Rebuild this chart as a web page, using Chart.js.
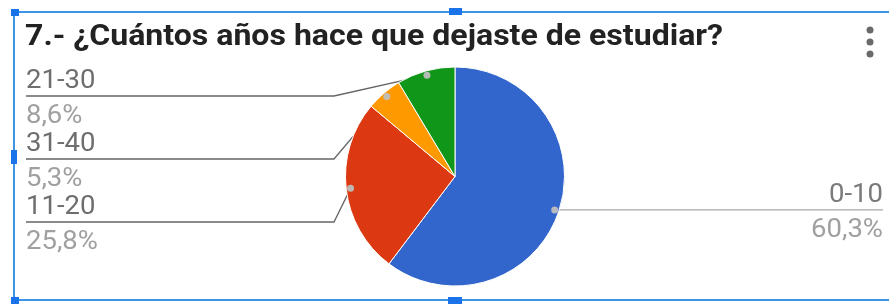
<!DOCTYPE html>
<html>
<head>
<meta charset="utf-8">
<script src="https://cdn.jsdelivr.net/npm/chart.js@4/dist/chart.umd.min.js"></script>
<style>
  html,body{margin:0;padding:0;background:#fff;width:889px;height:304px;overflow:hidden;}
  #wrap{position:relative;width:889px;height:304px;}
  canvas{position:absolute;left:0;top:0;}
  .bl{position:absolute;background:#3d95ea;}
  .hd{position:absolute;background:#1a73e8;}
</style>
</head>
<body>
<div id="wrap">
  <canvas id="c" width="889" height="304"></canvas>
  <div class="bl" style="left:13px;top:11px;width:876px;height:2px;"></div>
  <div class="bl" style="left:13px;top:11px;width:2px;height:290px;"></div>
  <div class="bl" style="left:13px;top:299px;width:876px;height:2px;"></div>
  <div class="hd" style="left:11px;top:9px;width:8px;height:7px;"></div>
  <div class="hd" style="left:449px;top:8px;width:13px;height:7px;"></div>
  <div class="hd" style="left:11px;top:150px;width:6px;height:14px;"></div>
  <div class="hd" style="left:448px;top:297px;width:14px;height:7px;"></div>
  <div class="hd" style="left:11px;top:297px;width:8px;height:7px;"></div>
</div>
<script>
const title = '7.- ¿Cuántos años hace que dejaste de estudiar?';
const categories = ['0-10', '11-20', '31-40', '21-30'];
const values = [60.3, 25.8, 5.3, 8.6];
const colors = ['#3366cc', '#dc3912', '#ff9900', '#109618'];

const pctText = v => v.toFixed(1).replace('.', ',') + '%';

// callout layout: side and y of the leader line (null => at the dot's y)
const callouts = [
  {side: 'right', lineY: null},
  {side: 'left', lineY: 222},
  {side: 'left', lineY: 159},
  {side: 'left', lineY: 96}
];

function dotPos(arc) {
  const mid = (arc.startAngle + arc.endAngle) / 2;
  const r = arc.outerRadius * 0.96;
  return {x: arc.x + Math.cos(mid) * r, y: arc.y + Math.sin(mid) * r};
}

function wideText(ctx, text, x, y, sx) {
  ctx.save();
  ctx.translate(x, y);
  ctx.scale(sx, 1);
  ctx.fillText(text, 0, 0);
  ctx.restore();
}

const calloutPlugin = {
  id: 'callouts',
  beforeDatasetsDraw(chart) {
    const ctx = chart.ctx;
    const meta = chart.getDatasetMeta(0);
    ctx.save();
    meta.data.forEach((arc, i) => {
      const p = dotPos(arc);
      const c = callouts[i];
      ctx.beginPath();
      ctx.lineWidth = 1.3;
      if (c.side === 'right') {
        ctx.strokeStyle = '#a8a8a8';
        ctx.moveTo(p.x, p.y);
        ctx.lineTo(883, p.y);
      } else {
        ctx.strokeStyle = '#666666';
        ctx.moveTo(26, c.lineY);
        ctx.lineTo(334, c.lineY);
        ctx.lineTo(p.x, p.y);
      }
      ctx.stroke();
    });
    ctx.restore();
  },
  afterDatasetsDraw(chart) {
    const ctx = chart.ctx;
    const meta = chart.getDatasetMeta(0);
    ctx.save();
    meta.data.forEach((arc, i) => {
      const p = dotPos(arc);
      const c = callouts[i];
      ctx.beginPath();
      ctx.fillStyle = 'rgba(190,190,190,0.95)';
      ctx.arc(p.x, p.y, 3.5, 0, Math.PI * 2);
      ctx.fill();
      const ly = c.side === 'right' ? p.y : c.lineY;
      ctx.font = '25px Roboto';
      ctx.textBaseline = 'alphabetic';
      if (c.side === 'right') {
        ctx.textAlign = 'right';
        ctx.fillStyle = '#7a7a7a';
        wideText(ctx, categories[i], 883, ly - 8, 1.1);
        ctx.fillStyle = '#a0a0a0';
        wideText(ctx, pctText(values[i]), 883, ly + 27, 1.1);
      } else {
        ctx.textAlign = 'left';
        ctx.fillStyle = '#6e6e6e';
        wideText(ctx, categories[i], 26, ly - 8, 1.1);
        ctx.fillStyle = '#a0a0a0';
        wideText(ctx, pctText(values[i]), 26, ly + 27, 1.1);
      }
    });
    // title
    ctx.textAlign = 'left';
    ctx.fillStyle = '#222222';
    ctx.font = 'bold 29px Roboto';
    const w = ctx.measureText(title).width;
    wideText(ctx, title, 25, 45, 698 / w);
    // menu dots
    ctx.fillStyle = '#6a6a6a';
    [30, 42, 54].forEach(y => {
      ctx.beginPath();
      ctx.arc(870, y, 3.5, 0, Math.PI * 2);
      ctx.fill();
    });
    ctx.restore();
  }
};

new Chart(document.getElementById('c'), {
  type: 'pie',
  data: {
    labels: categories,
    datasets: [{
      data: values,
      backgroundColor: colors,
      borderColor: '#ffffff',
      borderWidth: 1
    }]
  },
  options: {
    responsive: false,
    animation: false,
    layout: {padding: {left: 345, right: 324, top: 66, bottom: 17}},
    plugins: {legend: {display: false}, tooltip: {enabled: false}, title: {display: false}}
  },
  plugins: [calloutPlugin]
});
</script>
</body>
</html>
